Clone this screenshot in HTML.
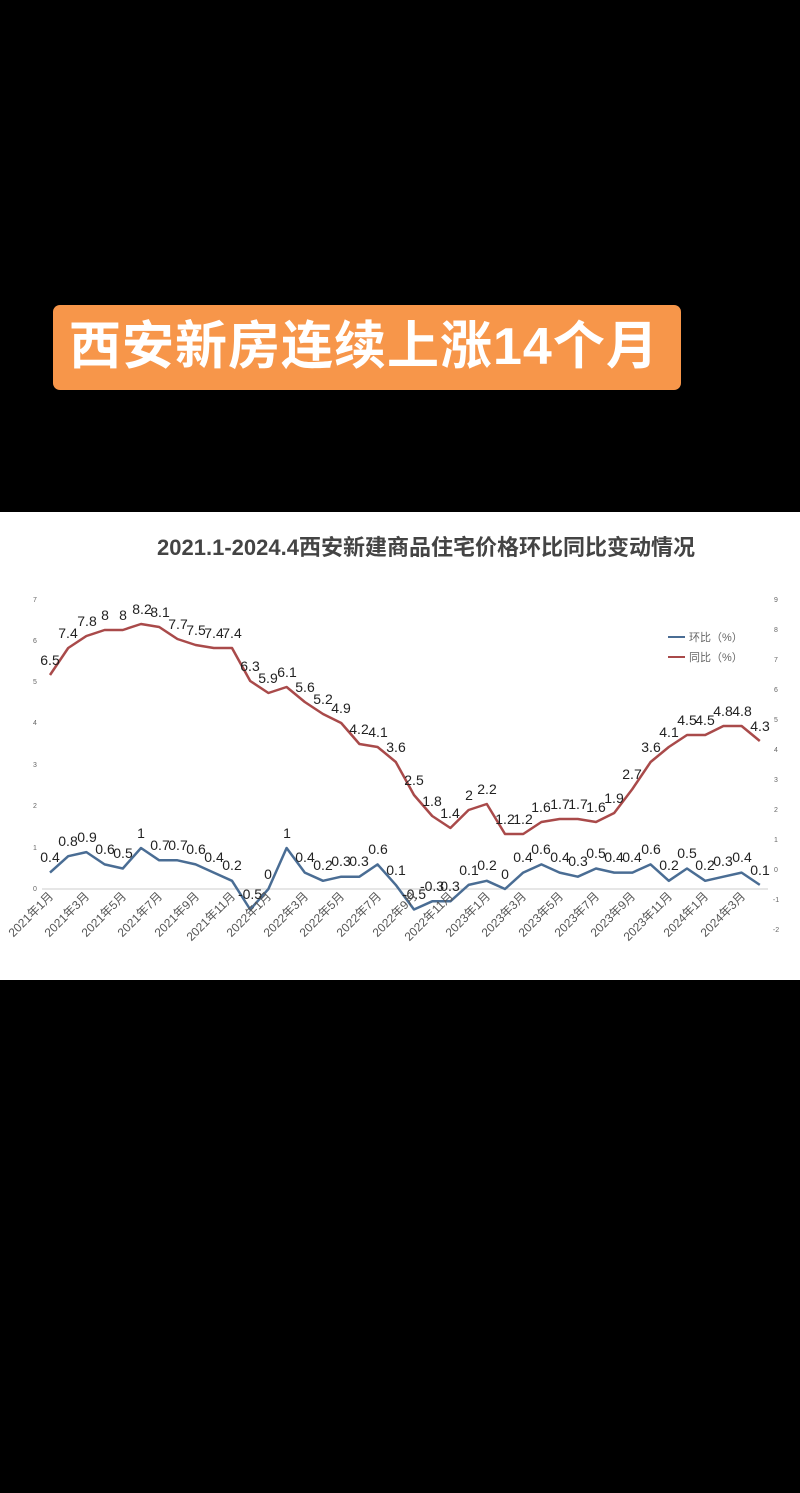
<!DOCTYPE html>
<html><head><meta charset="utf-8"><style>
html,body{margin:0;padding:0;background:#000;width:800px;height:1493px;overflow:hidden}
.banner{position:absolute;left:53px;top:305px;width:628px;height:85px;background:#F7964A;border-radius:7px;color:#fff;font:bold 52px "Liberation Sans","Noto Sans CJK SC",sans-serif;line-height:85px;padding-left:16px;box-sizing:border-box;letter-spacing:1px;white-space:nowrap}
.chart{position:absolute;left:0;top:512px;width:800px;height:468px;background:#fff}
svg{position:absolute;left:0;top:0}
</style></head><body>
<div class="banner">西安新房连续上涨14个月</div>
<div class="chart"></div>
<svg width="800" height="1493" font-family="Liberation Sans, Noto Sans CJK SC, sans-serif">
<text x="426" y="555" text-anchor="middle" font-size="22" font-weight="bold" fill="#444">2021.1-2024.4西安新建商品住宅价格环比同比变动情况</text>
<g font-size="7" fill="#666" text-anchor="middle">
<text x="35" y="602">7</text><text x="35" y="643">6</text><text x="35" y="684">5</text><text x="35" y="725">4</text><text x="35" y="767">3</text><text x="35" y="808">2</text><text x="35" y="850">1</text><text x="35" y="891">0</text>
<text x="776" y="602">9</text><text x="776" y="632">8</text><text x="776" y="662">7</text><text x="776" y="692">6</text><text x="776" y="722">5</text><text x="776" y="752">4</text><text x="776" y="782">3</text><text x="776" y="812">2</text><text x="776" y="842">1</text><text x="776" y="872">0</text><text x="776" y="902">-1</text><text x="776" y="932">-2</text>
</g>
<line x1="42" y1="889" x2="768" y2="889" stroke="#ccc" stroke-width="1"/>
<line x1="668" y1="637" x2="685" y2="637" stroke="#4A6D94" stroke-width="2"/>
<line x1="668" y1="657" x2="685" y2="657" stroke="#A94A4A" stroke-width="2"/>
<text x="689" y="641" font-size="11" fill="#666">环比（%）</text>
<text x="689" y="661" font-size="11" fill="#666">同比（%）</text>
<polyline fill="none" stroke="#A94A4A" stroke-width="2.5" stroke-linejoin="round" points="50,675 68.2,648 86.4,636 104.6,630 122.8,630 141,624 159.2,627 177.4,639 195.6,645 213.8,648 232,648 250.2,681 268.4,693 286.6,687 304.8,702 323,714 341.2,723 359.4,744 377.6,747 395.8,762 414,795 432.2,816 450.4,828 468.6,810 486.8,804 505,834 523.2,834 541.4,822 559.6,819 577.8,819 596,822 614.2,813 632.4,789 650.6,762 668.8,747 687,735 705.2,735 723.4,726 741.6,726 759.8,741"/>
<polyline fill="none" stroke="#4A6D94" stroke-width="2.5" stroke-linejoin="round" points="50,872.6 68.2,856.2 86.4,852.1 104.6,864.4 122.8,868.5 141,848 159.2,860.3 177.4,860.3 195.6,864.4 213.8,872.6 232,880.8 250.2,909.5 268.4,889 286.6,848 304.8,872.6 323,880.8 341.2,876.7 359.4,876.7 377.6,864.4 395.8,884.9 414,909.5 432.2,901.3 450.4,901.3 468.6,884.9 486.8,880.8 505,889 523.2,872.6 541.4,864.4 559.6,872.6 577.8,876.7 596,868.5 614.2,872.6 632.4,872.6 650.6,864.4 668.8,880.8 687,868.5 705.2,880.8 723.4,876.7 741.6,872.6 759.8,884.9"/>
<g font-size="14" fill="#222" text-anchor="middle">
<text x="50" y="665">6.5</text><text x="68" y="638">7.4</text><text x="87" y="626">7.8</text><text x="105" y="620">8</text><text x="123" y="620">8</text><text x="142" y="614">8.2</text><text x="160" y="617">8.1</text><text x="178" y="629">7.7</text><text x="196" y="635">7.5</text><text x="214" y="638">7.4</text><text x="232" y="638">7.4</text><text x="250" y="671">6.3</text><text x="268" y="683">5.9</text><text x="287" y="677">6.1</text><text x="305" y="692">5.6</text><text x="323" y="704">5.2</text><text x="341" y="713">4.9</text><text x="359" y="734">4.2</text><text x="378" y="737">4.1</text><text x="396" y="752">3.6</text><text x="414" y="785">2.5</text><text x="432" y="806">1.8</text><text x="450" y="818">1.4</text><text x="469" y="800">2</text><text x="487" y="794">2.2</text><text x="505" y="824">1.2</text><text x="523" y="824">1.2</text><text x="541" y="812">1.6</text><text x="560" y="809">1.7</text><text x="578" y="809">1.7</text><text x="596" y="812">1.6</text><text x="614" y="803">1.9</text><text x="632" y="779">2.7</text><text x="651" y="752">3.6</text><text x="669" y="737">4.1</text><text x="687" y="725">4.5</text><text x="705" y="725">4.5</text><text x="723" y="716">4.8</text><text x="742" y="716">4.8</text><text x="760" y="731">4.3</text>
<text x="50" y="862">0.4</text><text x="68" y="846">0.8</text><text x="87" y="842">0.9</text><text x="105" y="854">0.6</text><text x="123" y="858">0.5</text><text x="141" y="838">1</text><text x="160" y="850">0.7</text><text x="178" y="850">0.7</text><text x="196" y="854">0.6</text><text x="214" y="862">0.4</text><text x="232" y="870">0.2</text><text x="250" y="899">-0.5</text><text x="268" y="879">0</text><text x="287" y="838">1</text><text x="305" y="862">0.4</text><text x="323" y="870">0.2</text><text x="341" y="866">0.3</text><text x="359" y="866">0.3</text><text x="378" y="854">0.6</text><text x="396" y="875">0.1</text><text x="414" y="899">-0.5</text><text x="432" y="891">-0.3</text><text x="450" y="891">0.3</text><text x="469" y="875">0.1</text><text x="487" y="870">0.2</text><text x="505" y="879">0</text><text x="523" y="862">0.4</text><text x="541" y="854">0.6</text><text x="560" y="862">0.4</text><text x="578" y="866">0.3</text><text x="596" y="858">0.5</text><text x="614" y="862">0.4</text><text x="632" y="862">0.4</text><text x="651" y="854">0.6</text><text x="669" y="870">0.2</text><text x="687" y="858">0.5</text><text x="705" y="870">0.2</text><text x="723" y="866">0.3</text><text x="742" y="862">0.4</text><text x="760" y="875">0.1</text>
</g>
<g font-size="12" fill="#555" text-anchor="end">
<text transform="translate(54,897) rotate(-45)">2021年1月</text>
<text transform="translate(90,897) rotate(-45)">2021年3月</text>
<text transform="translate(127,897) rotate(-45)">2021年5月</text>
<text transform="translate(163,897) rotate(-45)">2021年7月</text>
<text transform="translate(200,897) rotate(-45)">2021年9月</text>
<text transform="translate(236,897) rotate(-45)">2021年11月</text>
<text transform="translate(272,897) rotate(-45)">2022年1月</text>
<text transform="translate(309,897) rotate(-45)">2022年3月</text>
<text transform="translate(345,897) rotate(-45)">2022年5月</text>
<text transform="translate(382,897) rotate(-45)">2022年7月</text>
<text transform="translate(418,897) rotate(-45)">2022年9月</text>
<text transform="translate(454,897) rotate(-45)">2022年11月</text>
<text transform="translate(491,897) rotate(-45)">2023年1月</text>
<text transform="translate(527,897) rotate(-45)">2023年3月</text>
<text transform="translate(564,897) rotate(-45)">2023年5月</text>
<text transform="translate(600,897) rotate(-45)">2023年7月</text>
<text transform="translate(636,897) rotate(-45)">2023年9月</text>
<text transform="translate(673,897) rotate(-45)">2023年11月</text>
<text transform="translate(709,897) rotate(-45)">2024年1月</text>
<text transform="translate(746,897) rotate(-45)">2024年3月</text>
</g>
</svg>
</body></html>
